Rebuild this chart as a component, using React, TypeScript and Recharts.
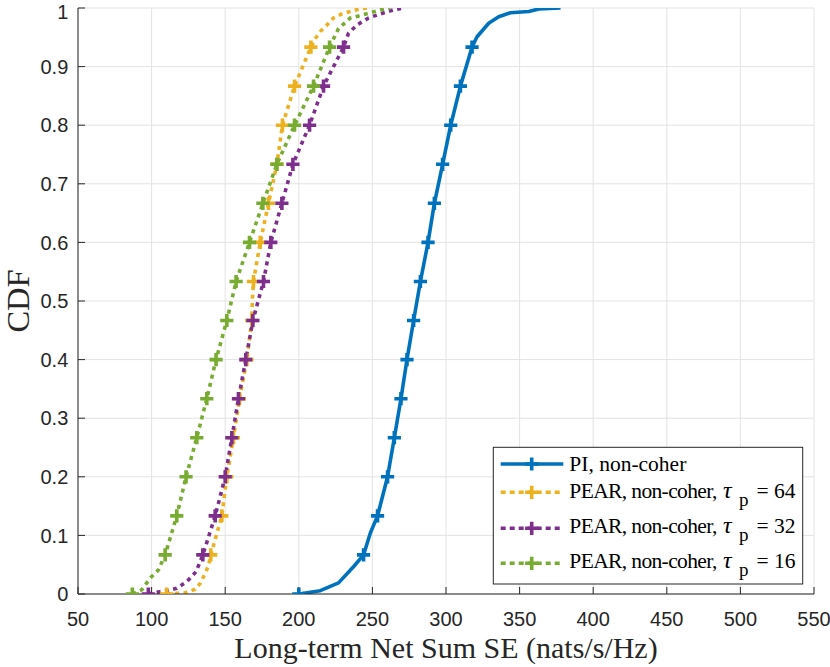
import React from 'react';
import { LineChart, Line, XAxis, YAxis, CartesianGrid, Legend } from 'recharts';

// CDF levels where the + markers sit (every 1/15)
const markerCdf = [0, 0.0667, 0.1333, 0.2, 0.2667, 0.3333, 0.4, 0.4667, 0.5333, 0.6, 0.6667, 0.7333, 0.8, 0.8667, 0.9333];

// PI, non-coher
const piMarkerSE = [200, 244, 253.5, 260.3, 264.9, 269.4, 273.5, 278, 282.6, 287.8, 292.1, 297.7, 303.2, 309.8, 317.7];
const piTailSE = [214.6, 227, 237.3, 248.6, 321.1, 329, 335.8, 343.8, 356.2, 363, 377.8];
const piTailCdf = [0.0057, 0.019, 0.047, 0.104, 0.951, 0.974, 0.985, 0.992, 0.994, 0.9983, 1];

// PEAR, tau_p = 64
const t64MarkerSE = [110.3, 140.2, 147.7, 151.1, 155.6, 159.7, 164.7, 168.1, 169.2, 173.8, 179.4, 185.1, 188.9, 197.1, 208.2];
const t64TailSE = [117.1, 122.8, 129.6, 133, 136.4, 138.7, 168.4, 211.3, 214.6, 219.1, 223.6, 229.3, 235, 240.6, 246.3];
const t64TailCdf = [0.001, 0.002, 0.008, 0.018, 0.035, 0.049, 0.5, 0.948, 0.96, 0.971, 0.983, 0.99, 0.994, 0.998, 1];

// PEAR, tau_p = 32
const t32MarkerSE = [97.8, 134.8, 143.2, 150, 154.5, 159, 164, 168.8, 176, 181, 188.5, 196, 207.3, 216.8, 230.4];
const t32TailSE = [105.8, 111.4, 117.1, 123.9, 130.2, 233.8, 239.5, 247.4, 255.4, 264.4, 271.2];
const t32TailCdf = [0.004, 0.006, 0.0097, 0.021, 0.038, 0.957, 0.971, 0.983, 0.99, 0.997, 1];

// PEAR, tau_p = 16
const t16MarkerSE = [86.9, 109.2, 117.1, 123.4, 130.7, 137.5, 143.8, 151.1, 157.4, 166.5, 175.6, 185.1, 197.1, 210, 220.9];
const t16TailSE = [93.3, 99, 104.6, 227, 235, 244, 255.4, 262.2];
const t16TailCdf = [0.007, 0.027, 0.041, 0.965, 0.983, 0.9886, 0.9966, 1];

const xTicks = [50, 100, 150, 200, 250, 300, 350, 400, 450, 500, 550];
const yTicks = [0, 0.1, 0.2, 0.3, 0.4, 0.5, 0.6, 0.7, 0.8, 0.9, 1];

const BLUE = '#0072BD';
const YELLOW = '#EDB120';
const PURPLE = '#7E2F8E';
const GREEN = '#77AC30';
const AXIS = '#262626';
const DOTS = '4 4.4';
const LW = 3.6;

type Pt = { se: number; cdf: number; mark: boolean };

function buildSeries(markerSE: number[], tailSE: number[], tailCdf: number[]): Pt[] {
  const pts = markerSE
    .map((se, i) => ({ se, cdf: markerCdf[i], mark: true }))
    .concat(tailSE.map((se, i) => ({ se, cdf: tailCdf[i], mark: false })));
  return pts.sort((a, b) => a.cdf - b.cdf);
}

const series = [
  { key: 'pi', data: buildSeries(piMarkerSE, piTailSE, piTailCdf), color: BLUE, dashed: false },
  { key: 't64', data: buildSeries(t64MarkerSE, t64TailSE, t64TailCdf), color: YELLOW, dashed: true },
  { key: 't32', data: buildSeries(t32MarkerSE, t32TailSE, t32TailCdf), color: PURPLE, dashed: true },
  { key: 't16', data: buildSeries(t16MarkerSE, t16TailSE, t16TailCdf), color: GREEN, dashed: true },
];

const legendRows = [
  { label: 'PI, non-coher', tau: '', color: BLUE, dashed: false },
  { label: 'PEAR, non-coher,', tau: '64', color: YELLOW, dashed: true },
  { label: 'PEAR, non-coher,', tau: '32', color: PURPLE, dashed: true },
  { label: 'PEAR, non-coher,', tau: '16', color: GREEN, dashed: true },
];

const plusPath = (x: number, y: number, r: number) => `M${x - r},${y}H${x + r}M${x},${y - r}V${y + r}`;

const makeDot = (color: string) => (props: any) => {
  const { cx, cy, payload, index } = props;
  if (!payload || !payload.mark) return <g key={`d-${index}`} />;
  return <path key={`d-${index}`} d={plusPath(cx, cy, 6.6)} stroke={color} strokeWidth={LW} fill="none" />;
};

// legend box sits at page (490, 444)
const rowLineY = [20, 48.3, 84.3, 119.3];
const rowBase = [26.7, 54.3, 89.3, 124.3];

const LegendBox = () => (
  <svg width={316} height={144} style={{ display: 'block' }}>
    <rect x={3.3} y={3.3} width={309.4} height={136.7} fill="#fff" stroke={AXIS} strokeWidth={1} />
    {legendRows.map((r, i) => (
      <g key={i}>
        <line x1={10.7} x2={73.3} y1={rowLineY[i]} y2={rowLineY[i]} stroke={r.color} strokeWidth={LW}
          strokeDasharray={r.dashed ? '5 4' : undefined} />
        <path d={plusPath(41.7, rowLineY[i], 6.6)} stroke={r.color} strokeWidth={LW} fill="none" />
        <text x={79.3} y={rowBase[i]} fontFamily="'Liberation Serif', serif" fontSize={21.5} fill="#000">
          {r.tau ? <tspan textLength={148} lengthAdjust="spacing">{r.label}</tspan> : r.label}
          {r.tau && <tspan x={233} fontSize={24} fontStyle="italic">τ</tspan>}
          {r.tau && <tspan x={249} fontSize={19} dy={8}>p</tspan>}
          {r.tau && <tspan x={266.5} dy={-8}>{`= ${r.tau}`}</tspan>}
        </text>
      </g>
    ))}
  </svg>
);

const XLabel = (props: any) => {
  const vb = props.viewBox || {};
  return (
    <text x={vb.x + vb.width / 2} y={vb.y + 64.3} textAnchor="middle" fontFamily="'Liberation Serif', serif" fontSize={30} fill={AXIS}>
      Long-term Net Sum SE (nats/s/Hz)
    </text>
  );
};

const YLabel = (props: any) => {
  const vb = props.viewBox || {};
  const cx = 29;
  const cy = vb.y + vb.height / 2;
  return (
    <text x={cx} y={cy} transform={`rotate(-90, ${cx}, ${cy})`} textAnchor="middle" fontFamily="'Liberation Serif', serif" fontSize={32.5} fill={AXIS}>
      CDF
    </text>
  );
};

const tickStyle = { fill: AXIS, fontSize: 20, fontFamily: "'Liberation Sans', Arial, sans-serif" };

export default function App() {
  return (
    <div style={{ position: 'absolute', left: 0, top: 0, background: '#fff' }}>
      <LineChart width={830} height={667} margin={{ top: 8, right: 16, bottom: 0, left: 0 }}>
        <CartesianGrid xAxisId="b" yAxisId="l" stroke="#e3e3e3" strokeWidth={1} />
        <XAxis xAxisId="b" dataKey="se" type="number" domain={[50, 550]} ticks={xTicks} height={73}
          tick={tickStyle} tickSize={-7} tickMargin={25} stroke={AXIS} tickLine={{ stroke: AXIS }}
          label={<XLabel />} allowDataOverflow />
        <XAxis xAxisId="t" orientation="top" dataKey="se" type="number" domain={[50, 550]} ticks={xTicks} height={0}
          tick={false} tickSize={-7} stroke={AXIS} tickLine={{ stroke: AXIS }} allowDataOverflow />
        <YAxis yAxisId="l" type="number" domain={[0, 1]} ticks={yTicks} width={78}
          tick={tickStyle} tickSize={-7} tickMargin={16.7} stroke={AXIS} tickLine={{ stroke: AXIS }}
          label={<YLabel />} allowDataOverflow />
        <YAxis yAxisId="r" orientation="right" type="number" domain={[0, 1]} ticks={yTicks} width={0}
          tick={false} tickSize={-7} stroke={AXIS} tickLine={{ stroke: AXIS }} allowDataOverflow />
        {series.map((s) => (
          <Line key={s.key} xAxisId="b" yAxisId="l" data={s.data} dataKey="cdf" type="linear"
            stroke={s.color} strokeWidth={LW} strokeDasharray={s.dashed ? DOTS : undefined}
            strokeLinejoin="round" dot={makeDot(s.color)} activeDot={false}
            isAnimationActive={false} legendType="none" />
        ))}
        <Legend content={<LegendBox />} layout="vertical" align="center" verticalAlign="middle"
          wrapperStyle={{ left: 490, top: 444, width: 316, height: 144, right: 'auto', bottom: 'auto' }} />
      </LineChart>
    </div>
  );
}
